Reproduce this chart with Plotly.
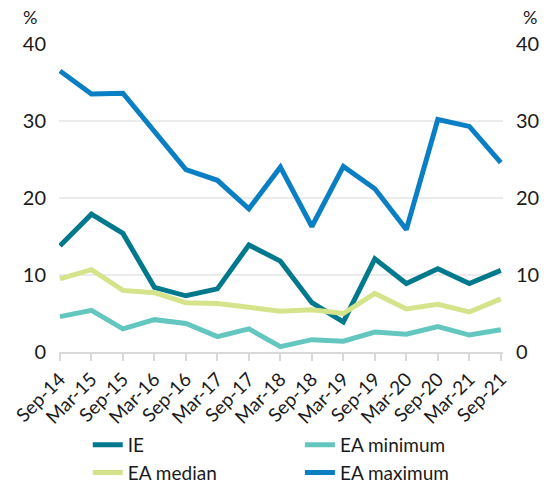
import plotly.graph_objects as go

categories = ["Sep-14", "Mar-15", "Sep-15", "Mar-16", "Sep-16", "Mar-17", "Sep-17", "Mar-18",
              "Sep-18", "Mar-19", "Sep-19", "Mar-20", "Sep-20", "Mar-21", "Sep-21"]
ie = [13.8, 17.9, 15.4, 8.4, 7.3, 8.2, 13.9, 11.8, 6.4, 3.9, 12.1, 8.9, 10.8, 8.9, 10.6]
ea_min = [4.6, 5.4, 3.0, 4.2, 3.7, 2.0, 3.0, 0.7, 1.6, 1.4, 2.6, 2.3, 3.3, 2.2, 2.9]
ea_median = [9.5, 10.7, 8.0, 7.7, 6.4, 6.3, 5.8, 5.3, 5.5, 5.0, 7.6, 5.6, 6.2, 5.2, 6.9]
ea_max = [36.5, 33.5, 33.6, 28.6, 23.7, 22.3, 18.6, 24.0, 16.3, 24.1, 21.2, 15.9, 30.2, 29.3, 24.6]
y_ticks = [0, 10, 20, 30, 40]

FONT = "Lato"
x_idx = list(range(len(categories)))

series = [
    ("IE", ie, "#00798c", "legend"),
    ("EA minimum", ea_min, "#63c7bf", "legend2"),
    ("EA median", ea_median, "#d5e38a", "legend"),
    ("EA maximum", ea_max, "#0a7fc4", "legend2"),
]

fig = go.Figure()
for name, vals, color, leg in series:
    fig.add_trace(go.Scatter(x=x_idx, y=vals, name=name, mode="lines", legend=leg,
                             line=dict(color=color, width=5)))
# invisible trace to anchor right axis
fig.add_trace(go.Scatter(x=x_idx, y=ie, yaxis="y2", mode="lines", line=dict(width=0),
                         showlegend=False, hoverinfo="skip", opacity=0))

legend_common = dict(
    orientation="v", xref="container", yref="container", xanchor="left",
    y=0.122, yanchor="top", font=dict(size=19), tracegroupgap=0,
    bgcolor="rgba(0,0,0,0)",
)

fig.update_layout(
    width=559, height=485,
    margin=dict(l=59, r=56, t=44, b=133, autoexpand=False),
    plot_bgcolor="white", paper_bgcolor="white",
    font=dict(family=FONT, color="#1a1a1a"),
    xaxis=dict(
        range=[-0.03, 14.07], tickmode="array", tickvals=x_idx, ticktext=categories,
        tickangle=-45, tickfont=dict(size=19), showgrid=False, zeroline=False,
        showline=True, linecolor="#d9d9d9", linewidth=1.5,
        ticks="outside", ticklen=7, tickcolor="#d9d9d9", tickwidth=1.5,
    ),
    yaxis=dict(
        range=[0, 40], tickvals=y_ticks, tickfont=dict(size=20),
        showgrid=True, gridcolor="#ebebeb", gridwidth=1.5, zeroline=False,
        ticks="", ticklabelstandoff=12,
    ),
    yaxis2=dict(
        range=[0, 40], tickvals=y_ticks, tickfont=dict(size=20), overlaying="y",
        side="right", showgrid=False, zeroline=False, ticks="", ticklabelstandoff=12,
    ),
    legend=dict(x=0.157, **legend_common),
    legend2=dict(x=0.5365, **legend_common),
    annotations=[
        dict(text="%", xref="paper", yref="paper", x=-0.065, y=1.087, showarrow=False,
             xanchor="center", yanchor="middle", font=dict(size=18)),
        dict(text="%", xref="paper", yref="paper", x=1.06, y=1.087, showarrow=False,
             xanchor="center", yanchor="middle", font=dict(size=18)),
    ],
)

fig.write_html("out.html")
